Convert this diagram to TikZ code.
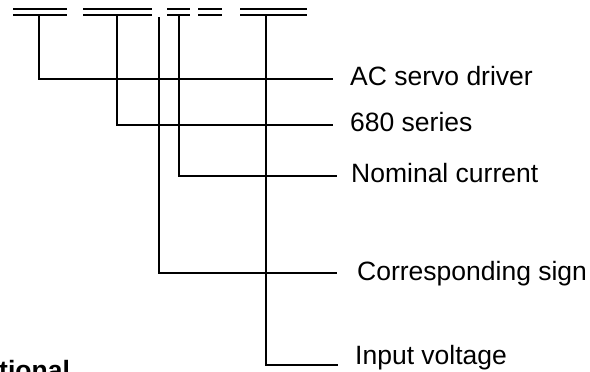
\documentclass[tikz,border=0pt]{standalone}
\usepackage{fontspec}
\setmainfont{Liberation Sans}
\usepackage{tikz}
\usetikzlibrary{positioning}

\tikzset{
  bar/.style={line width=2pt, black},
  lead/.style={line width=1.9pt, black},
  lbl/.style={inner sep=0pt, anchor=base west, font=\fontsize{26.5}{30}\selectfont}
}

\begin{document}
\begin{tikzpicture}[x=1pt, y=-1pt]
    \useasboundingbox (0,0) rectangle (590,372);
    \clip (0,0) rectangle (590,372);

    % code fields (double bars)
    \foreach \a/\b in {13/67, 83/152, 167/190, 198/222, 240/307}
        \draw[bar] (\a,9) -- (\b,9) (\a,15) -- (\b,15);

    % tops of the leads
    \coordinate (t1) at (39,15);
    \coordinate (t2) at (117,15);
    \coordinate (t3) at (179,15);
    \coordinate (t4) at (159,17);
    \coordinate (t5) at (266,15);

    % ends of the leads
    \coordinate (e1) at (333,79);
    \coordinate (e2) at (333,125);
    \coordinate (e3) at (337,176);
    \coordinate (e4) at (337,273);
    \coordinate (e5) at (338,365);

    \node[lbl] (drv) at (350,85) {AC servo driver};
    \node[lbl] (ser) at (350,131) {680 series};
    \node[lbl] (cur) at (351,182) {Nominal current};
    \node[lbl] (sgn) at (357,280) {Corresponding sign};
    \node[lbl] (vin) at (355,364) {Input voltage};
    \node[lbl, font=\fontsize{26.5}{30}\selectfont\bfseries] (opt) at (-1,379) {tional};

    \draw[lead] (t1) |- (e1);
    \draw[lead] (t2) |- (e2);
    \draw[lead] (t3) |- (e3);
    \draw[lead] (t4) |- (e4);
    \draw[lead] (t5) |- (e5);
\end{tikzpicture}
\end{document}
